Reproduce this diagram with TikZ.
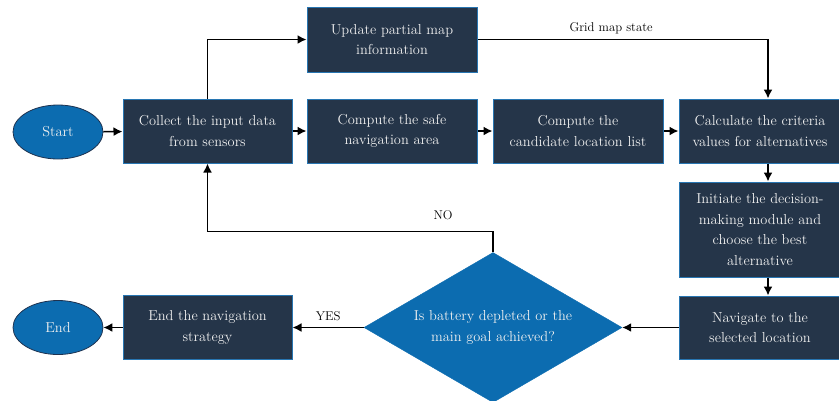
\documentclass[tikz,border=0pt]{standalone}
\usetikzlibrary{shapes.geometric,arrows.meta}
\definecolor{boxfill}{RGB}{37,53,73}
\definecolor{boxedge}{RGB}{40,118,178}
\definecolor{bluefill}{RGB}{12,108,176}
\definecolor{ovaledge}{RGB}{30,50,80}
\definecolor{txt}{RGB}{240,240,240}
\begin{document}
\begin{tikzpicture}[x=1pt,y=-1pt,
  txtfont/.style={font=\fontsize{14.4}{20.5}\selectfont},
  box/.style={draw=boxedge,fill=boxfill,line width=1pt,minimum width=170pt,minimum height=64pt,text=txt,align=center,txtfont,inner sep=0pt},
  oval/.style={ellipse,draw=ovaledge,fill=bluefill,line width=0.8pt,minimum width=90pt,minimum height=54pt,text=txt,txtfont,inner sep=0pt},
  dec/.style={diamond,fill=bluefill,draw=bluefill,minimum width=258pt,minimum height=150pt,inner sep=0pt},
  arr/.style={line width=1.6pt,-{Latex[length=9pt,width=9pt]}},
  lbl/.style={font=\fontsize{12.7}{14}\selectfont,text=black}]
\useasboundingbox (0,0) rectangle (839,400);
\node[oval] (start) at (58,132) {Start};
\node[box,minimum width=169pt] (collect) at (207.5,131) {Collect the input data\\from sensors};
\node[box,minimum height=65pt] (update) at (392,39.5) {Update partial map\\information};
\node[box] (safe) at (392,131) {Compute the safe\\navigation area};
\node[box] (cand) at (578,131) {Compute the\\candidate location list};
\node[box,minimum width=162pt] (calc) at (760,131) {Calculate the criteria\\values for alternatives};
\node[box,minimum width=162pt,minimum height=95pt] (init) at (760,229.5) {Initiate the decision-\\making module and\\choose the best\\alternative};
\node[box,minimum width=162pt,minimum height=63pt] (nav) at (760,327.5) {Navigate to the\\selected location};
\node[dec] (dia) at (493,327.5) {};
\node[text=txt,align=center,txtfont] (diatext) at (dia.center) {Is battery depleted or the\\main goal achieved?};
\node[box,minimum width=169pt] (endbox) at (207.5,327.5) {End the navigation\\strategy};
\node[oval] (end) at (58,327.5) {End};

\draw[arr] (start) -- (collect);
\draw[arr] (collect) -- (safe);
\draw[arr] (safe) -- (cand);
\draw[arr] (cand) -- (calc);
\draw[arr] (collect.north) |- (update.west);
\draw[arr] (update.east) -| ([xshift=8pt]calc.north) node[lbl,pos=0.23,above=1pt] {Grid map state};
\draw[arr] ([xshift=8pt]calc.south) -- ([xshift=8pt]init.north);
\draw[arr] ([xshift=8pt]init.south) -- ([xshift=8pt]nav.north);
\draw[arr] (nav.west) -- (dia.east);
\draw[arr] (dia.north) -- ++(0,-21) coordinate (turn) -| (collect.south);
\node[lbl] (no) at (443,215) {NO};
\draw[arr] (dia.west) -- (endbox.east) node[lbl,midway,above=3pt] {YES};
\draw[arr] (endbox.west) -- (end.east);
\end{tikzpicture}
\end{document}
